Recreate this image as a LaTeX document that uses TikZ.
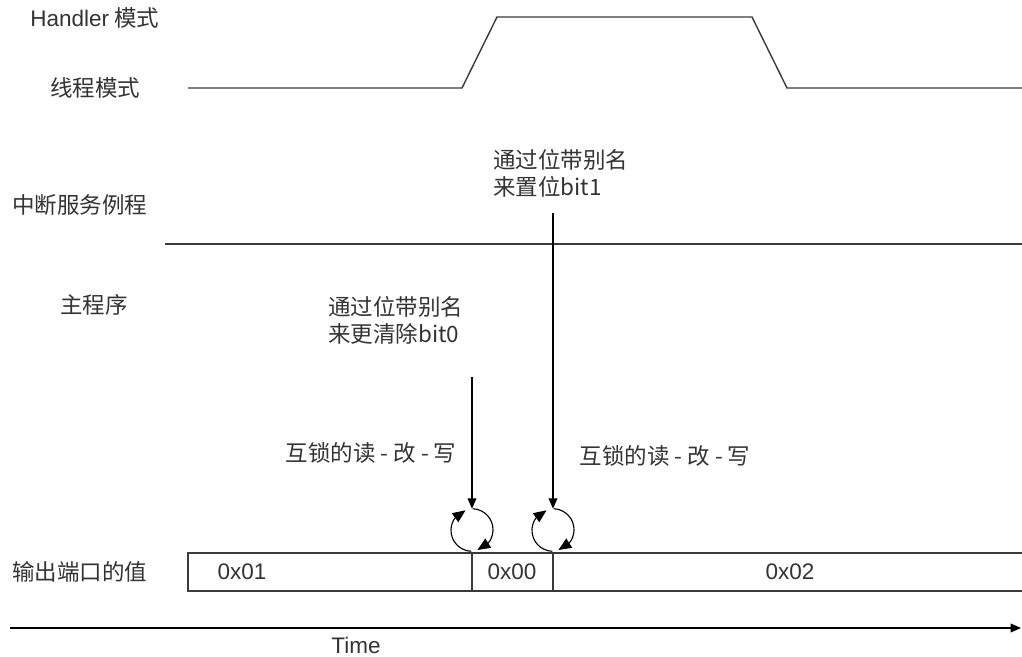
\documentclass[tikz,border=0pt]{standalone}
\usepackage{fontspec}
\setmainfont{Liberation Sans}
\newfontfamily\cjk{Noto Sans CJK SC}
\usetikzlibrary{arrows.meta,bending}
\definecolor{texto}{HTML}{333333}
\definecolor{traco}{HTML}{3A3A3A}

\begin{document}
\begin{tikzpicture}[
  x=0.025cm,y=0.025cm,
  legenda/.style={font=\cjk\fontsize{16}{19.2}\selectfont,text=texto,inner sep=0pt,align=left},
  valor/.style={font=\fontsize{16}{19.2}\selectfont,text=texto,inner sep=0pt},
  sinal/.style={draw=traco,line width=1pt},
  ponta/.style={-{Triangle[length=2.6mm,width=2.2mm]},draw=black,line width=0.8pt},
  volta/.style={-{Triangle[length=3.2mm,width=2.7mm,flex]},draw=black,line width=0.8pt},
  laco/.style={circle,minimum size=1.05cm,inner sep=0pt}
]
\useasboundingbox (0,0) rectangle (1022,-657);

% rotulos das linhas
\node[legenda,anchor=west] (handler) at (30,-18) {{\rmfamily Handler} 模式};
\node[legenda,anchor=west] (thread) at (50,-88) {线程模式};
\node[legenda,anchor=west] (isr) at (12,-205) {中断服务例程};
\node[legenda,anchor=west] (main) at (60,-305) {主程序};
\node[legenda,anchor=west] (porta) at (12,-572) {输出端口的值};

% modo do processador
\draw[sinal] (188,-88) -- (462,-88) -- (497,-17) -- (752,-17) -- (787,-88) -- (1022,-88);
\draw[sinal] (165,-244) -- (1022,-244);

% valor da porta
\draw[sinal] (1022,-553) -- (188,-553) -- (188,-591) -- (1022,-591);
\draw[sinal] (472,-553) -- (472,-591);
\draw[sinal] (553,-553) -- (553,-591);
\node[valor] (v01) at (242,-572) {0x01};
\node[valor] (v00) at (512,-572) {0x00};
\node[valor] (v02) at (790,-572) {0x02};

% acessos por alias
\node[legenda,anchor=west] (limpa) at (328,-320) {通过位带别名\\来更清除bit0};
\node[legenda,anchor=west] (seta1) at (493,-173) {通过位带别名\\来置位bit1};
\node[legenda] (rmw0txt) at (371,-453) {互锁的读 - 改 - 写};
\node[legenda] (rmw1txt) at (665,-456) {互锁的读 - 改 - 写};

\node[laco] (rmw0) at (472,-530) {};
\node[laco] (rmw1) at (553,-530) {};
\coordinate (s0) at (472,-377);
\coordinate (s1) at (553,-213);
\draw[ponta] (s0) -- (rmw0.north);
\draw[ponta] (s1) -- (rmw1.north);
\draw[volta] (rmw0.268) arc[start angle=268,end angle=108,radius=0.525cm];
\draw[volta] (rmw0.88) arc[start angle=88,end angle=-75,radius=0.525cm];
\draw[volta] (rmw1.268) arc[start angle=268,end angle=108,radius=0.525cm];
\draw[volta] (rmw1.88) arc[start angle=88,end angle=-75,radius=0.525cm];

% eixo do tempo
\coordinate (t0) at (10,-628);
\coordinate (t1) at (1021,-628);
\draw[ponta] (t0) -- (t1);
\node[valor] (tempo) at (356,-645) {Time};
\end{tikzpicture}
\end{document}
